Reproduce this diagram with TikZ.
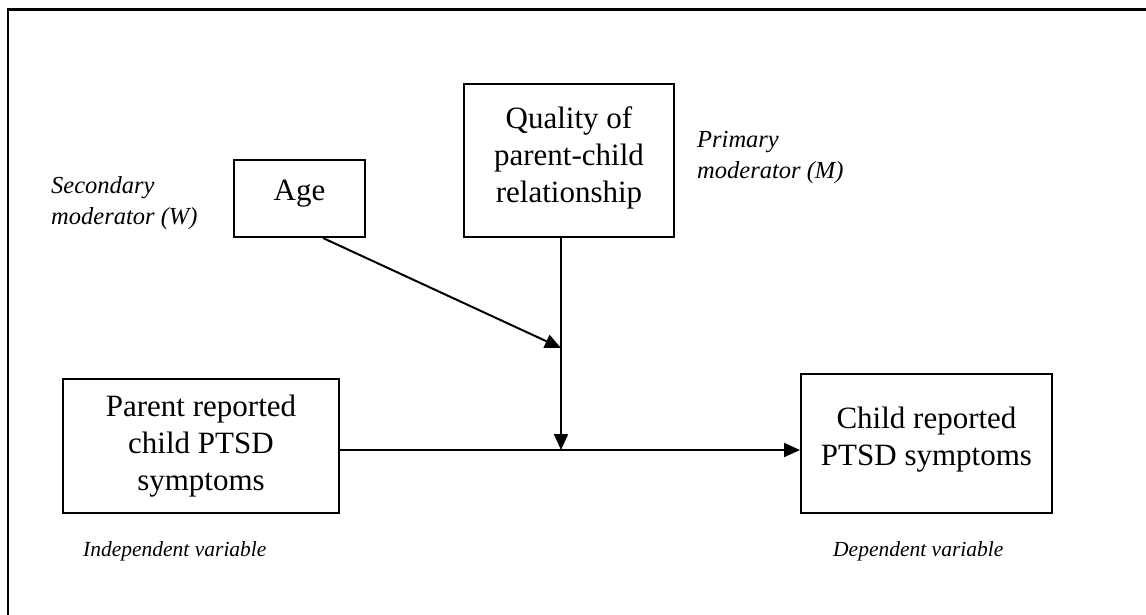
\documentclass[tikz,border=0pt]{standalone}
\usepackage{fontspec}
\setmainfont{Liberation Serif}
\usepackage{tikz}
\usetikzlibrary{arrows.meta,positioning,calc}

\begin{document}
\begin{tikzpicture}[
  x=1pt, y=-1pt,
  font=\fontsize{31}{37}\selectfont,
  box/.style={draw, line width=2pt, align=center, inner sep=4pt},
  note/.style={font=\fontsize{24.5}{31}\selectfont\itshape, inner sep=0pt},
  varnote/.style={note, font=\fontsize{21.5}{26}\selectfont\itshape},
  arr/.style={-{Triangle[length=16pt,width=14pt]}, line width=2pt}
]
\useasboundingbox (0,0) rectangle (1146,615);
% frame
\draw[line width=2.4pt] (7.8,615) -- (7.8,9.5) -- (1146,9.5);

\node[box, minimum width=131pt, minimum height=77pt] (age) at (299.5,198.5) {Age\\[-20pt]};
\node[box, minimum width=210pt, minimum height=153pt] (qual) at (569,160.5) {Quality of\\parent-child\\relationship\\[-25pt]};
\node[box, minimum width=276pt, minimum height=134pt] (parent) at (201,446) {Parent reported\\child PTSD\\symptoms};
\node[box, minimum width=251pt, minimum height=139pt] (child) at (926.5,443.5) {Child reported\\PTSD symptoms\\[-22pt]};

\node[note, anchor=west, align=left] (wlab) at (51,203) {Secondary\\moderator (W)};
\node[note, anchor=west, align=left] (mlab) at (697,157) {Primary\\moderator (M)};
\node[varnote, anchor=west] (ivlab) at (83,551) {Independent variable};
\node[varnote, anchor=west] (dvlab) at (833,551) {Dependent variable};

\coordinate (mod) at (561,348);
\coordinate (join) at (561,450);

\draw[arr] (parent.east |- join) -- (child.west |- join);
\draw[arr] (qual.south -| join) -- (join);
\draw[arr] ([xshift=23.5pt]age.south) -- (mod);
\end{tikzpicture}
\end{document}
